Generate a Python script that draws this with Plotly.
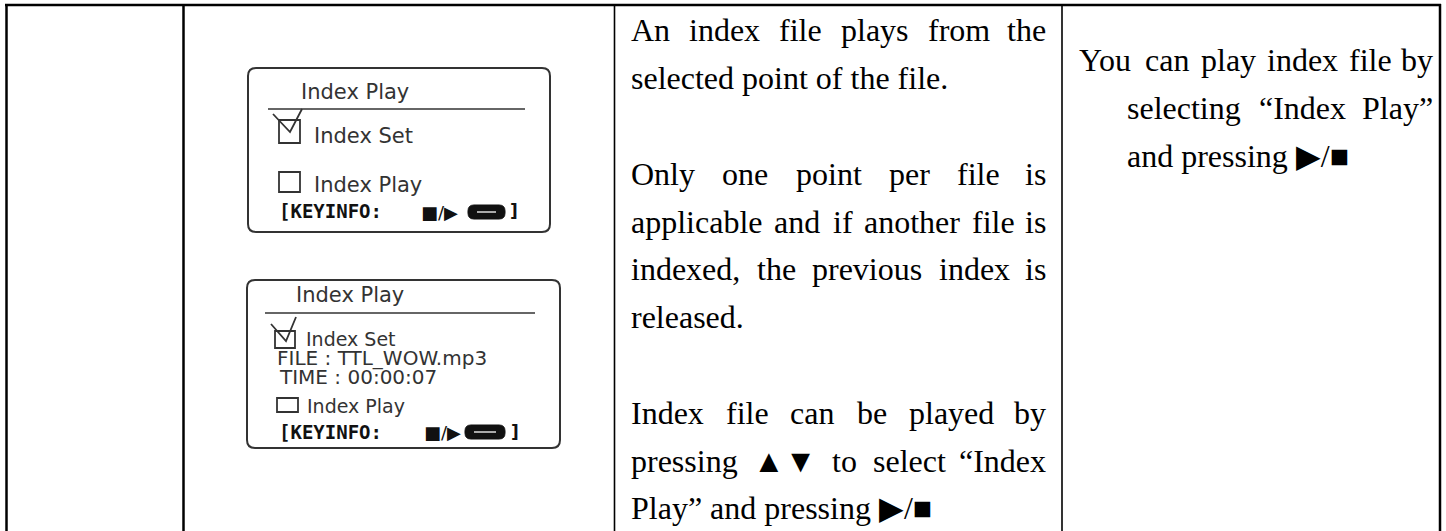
import plotly.graph_objects as go

W, H = 1446, 531

# ---------------- content ----------------
col3_lines = [
    "An index file plays from the",
    "selected point of the file.",
    "",
    "Only one point per file is",
    "applicable and if another file is",
    "indexed, the previous index is",
    "released.",
    "",
    "Index file can be played by",
    "pressing ▲▼ to select “Index",
    "Play” and pressing ▶/■",
]
col3_justified = [True, False, False, True, True, True, False, False, True, True, False]

col4_lines = ["You can play index file by", "selecting “Index Play”", "and pressing ▶/■"]
col4_justified = [True, True, False]

screen1_header = "Index Play"
screen1_items = ["Index Set", "Index Play"]
screen2_header = "Index Play"
screen2_items = ["Index Set", "FILE : TTL_WOW.mp3", "TIME : 00:00:07", "Index Play"]
key_label = "[KEYINFO:"
key_icons = "■/▶"
key_close = "]"

# ---------------- helpers ----------------
TIMES = {' ': 250, 'a': 444, 'b': 500, 'c': 444, 'd': 500, 'e': 444, 'f': 333, 'g': 500,
         'h': 500, 'i': 278, 'j': 278, 'k': 500, 'l': 278, 'm': 778, 'n': 500, 'o': 500,
         'p': 500, 'q': 500, 'r': 333, 's': 389, 't': 278, 'u': 500, 'v': 500, 'w': 722,
         'x': 500, 'y': 500, 'z': 444, 'A': 722, 'I': 333, 'O': 722, 'P': 556, 'Y': 722,
         'T': 611, '.': 250, ',': 250, '“': 444, '”': 444, '/': 278,
         '▲': 1000, '▼': 1000, '▶': 1000, '■': 1000}


def tw(s, size):
    return sum(TIMES.get(c, 500) for c in s) / 1000.0 * size


annotations = []
shapes = []

SERIF = "Liberation Serif, Times New Roman, serif"
SANS = "DejaVu Sans, Arial, sans-serif"
MONO = "DejaVu Sans Mono, monospace"


def add_text(text, x, y, anchor="left", size=32, family=SERIF, color="#000", bold=False):
    annotations.append(dict(
        text=("<b>%s</b>" % text) if bold else text, x=x, y=y, xref="x", yref="y",
        xanchor=anchor, yanchor="middle", showarrow=False,
        font=dict(family=family, size=size, color=color), borderpad=0,
    ))


def place_line(text, x0, x1, baseline, justify, size):
    if not text:
        return
    yc = baseline - 0.30 * size
    words = text.split(" ")
    if not justify or len(words) == 1:
        add_text(text, x0, yc, "left", size)
        return
    ws = [tw(w, size) for w in words]
    gap = (x1 - x0 - sum(ws)) / (len(words) - 1)
    x = x0
    for i, (w, wd) in enumerate(zip(words, ws)):
        if i == len(words) - 1:
            add_text(w, x1, yc, "right", size)
        else:
            add_text(w, x, yc, "left", size)
        x += wd + gap


def line(x0, y0, x1, y1, width=2, color="#000"):
    shapes.append(dict(type="line", x0=x0, y0=y0, x1=x1, y1=y1, xref="x", yref="y",
                       line=dict(color=color, width=width)))


def rrect(x0, y0, x1, y1, r, lc="#333", lw=2, fill=None):
    p = (f"M{x0+r},{y0} L{x1-r},{y0} Q{x1},{y0} {x1},{y0+r} L{x1},{y1-r} "
         f"Q{x1},{y1} {x1-r},{y1} L{x0+r},{y1} Q{x0},{y1} {x0},{y1-r} "
         f"L{x0},{y0+r} Q{x0},{y0} {x0+r},{y0} Z")
    shapes.append(dict(type="path", path=p, xref="x", yref="y",
                       line=dict(color=lc, width=lw),
                       fillcolor=fill if fill else "rgba(0,0,0,0)"))


def box(x0, y0, x1, y1, lc="#333", lw=2):
    shapes.append(dict(type="rect", x0=x0, y0=y0, x1=x1, y1=y1, xref="x", yref="y",
                       line=dict(color=lc, width=lw), fillcolor="rgba(0,0,0,0)"))


def check(xa, ya, xb, yb, xc, yc, lc="#333", lw=2):
    shapes.append(dict(type="path", path=f"M{xa},{ya} L{xb},{yb} L{xc},{yc}",
                       xref="x", yref="y", line=dict(color=lc, width=lw)))


# ---------------- table grid ----------------
line(5, 5, 1441, 5, 2.5)
line(6.5, 4, 6.5, H, 2.5)
line(183.5, 4, 183.5, H, 2.5)
line(614.5, 4, 614.5, H, 1.6)
line(1062, 4, 1062, H, 1.6)
line(1440, 4, 1440, H, 2.5)

# ---------------- column 3 text ----------------
FS = 32
for k, (t, j) in enumerate(zip(col3_lines, col3_justified)):
    place_line(t, 630, 1047, 40 + 47.8 * k, j, FS)

# ---------------- column 4 text ----------------
col4_x0 = [1078, 1126, 1126]
for k, (t, j) in enumerate(zip(col4_lines, col4_justified)):
    place_line(t, col4_x0[k], 1434, 70 + 47.8 * k, j, FS)

# ---------------- screen 1 ----------------
SC = "#333"
rrect(248, 68, 550, 232, 8, SC, 2)
add_text(screen1_header, 300, 92, size=21, family=SANS, color=SC)
line(268, 109, 525, 109, 1.6, SC)
box(279, 120, 300, 143, SC, 1.8)
check(273, 114, 290, 132, 302, 109, SC, 1.8)
add_text(screen1_items[0], 313, 136, size=21, family=SANS, color=SC)
box(279, 172, 300, 192, SC, 1.8)
add_text(screen1_items[1], 313, 185, size=21, family=SANS, color=SC)
add_text(key_label, 278, 211, size=19, family=MONO, color="#111", bold=True)
add_text(key_icons, 439, 212, anchor="center", size=18, family=SANS, color="#111")
rrect(468, 205, 505, 219, 6, "#111", 1, "#111")
line(477, 212, 496, 212, 1.5, "#ddd")
add_text(key_close, 509, 211, size=17, family=SANS, color="#111", bold=True)

# ---------------- screen 2 ----------------
rrect(247, 280, 560, 448, 8, SC, 2)
add_text(screen2_header, 295, 295, size=21, family=SANS, color=SC)
line(265, 313, 535, 313, 1.6, SC)
box(275, 331, 295, 348, SC, 1.8)
check(271, 324, 286, 341, 296, 317, SC, 1.8)
add_text(screen2_items[0], 305, 339, size=19, family=SANS, color=SC)
add_text(screen2_items[1], 276, 358, size=20, family=SANS, color=SC)
add_text(screen2_items[2], 278, 377, size=20, family=SANS, color=SC)
box(277, 398, 298, 412, SC, 1.8)
add_text(screen2_items[3], 306, 406, size=19, family=SANS, color=SC)
add_text(key_label, 278, 432, size=19, family=MONO, color="#111", bold=True)
add_text(key_icons, 442, 432, anchor="center", size=18, family=SANS, color="#111")
rrect(465, 425, 505, 439, 6, "#111", 1, "#111")
line(474, 432, 496, 432, 1.5, "#ddd")
add_text(key_close, 510, 432, size=17, family=SANS, color="#111", bold=True)

# ---------------- figure ----------------
fig = go.Figure(go.Scatter(x=[], y=[], mode="markers", showlegend=False, hoverinfo="skip"))
fig.update_layout(
    width=W, height=H, margin=dict(l=0, r=0, t=0, b=0),
    paper_bgcolor="white", plot_bgcolor="white",
    xaxis=dict(range=[0, W], visible=False, fixedrange=True),
    yaxis=dict(range=[H, 0], visible=False, fixedrange=True),
    shapes=shapes, annotations=annotations, showlegend=False,
)
fig.write_html("out.html", config={"displayModeBar": False},
               post_script="document.body.style.margin='0';document.body.style.overflow='hidden';")
